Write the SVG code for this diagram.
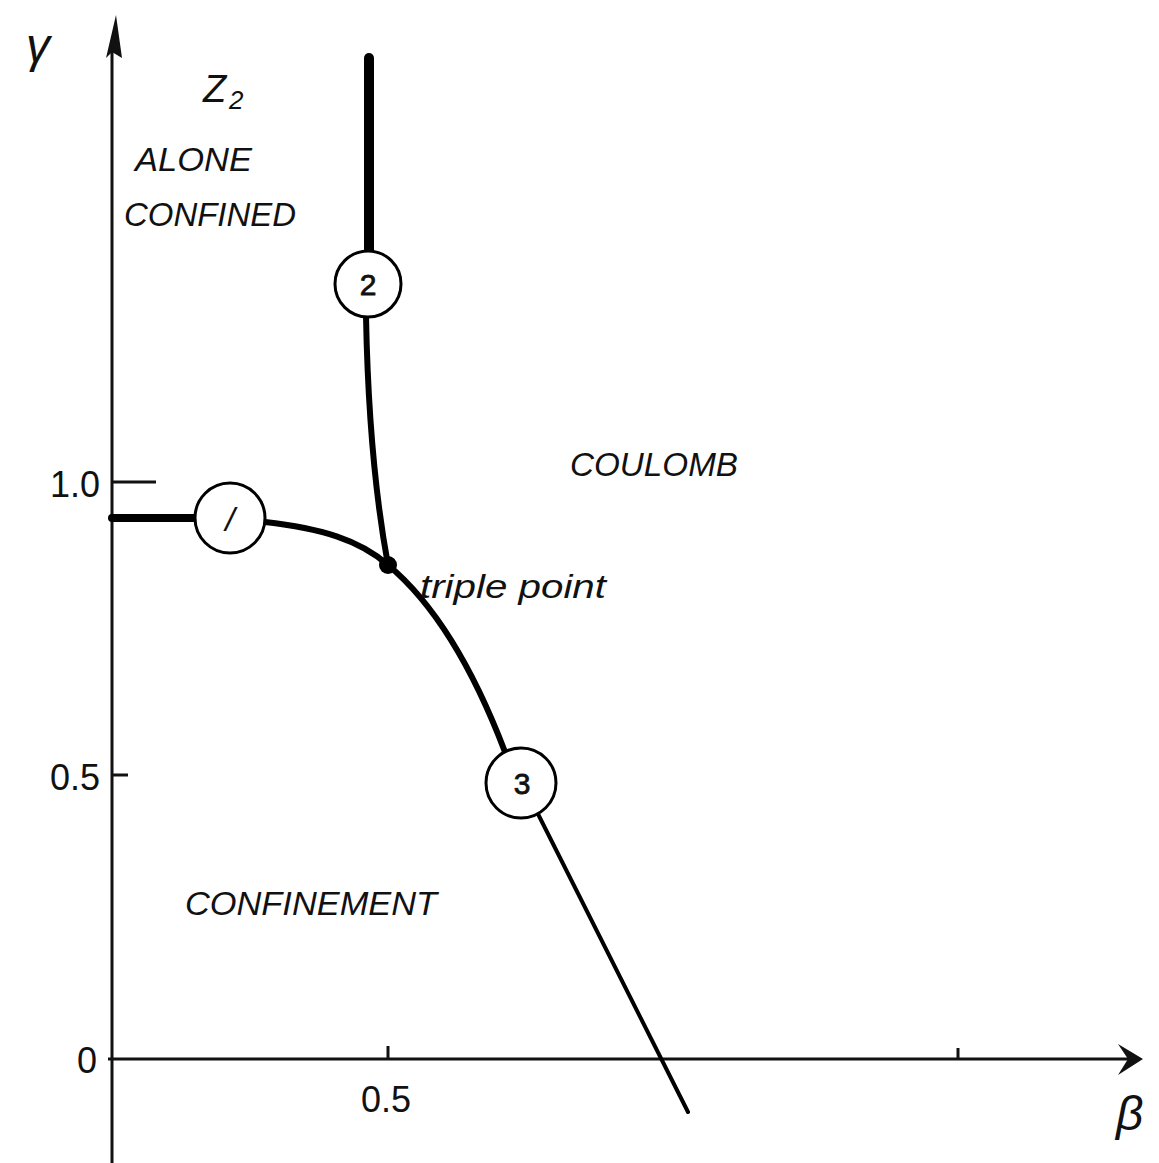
<svg xmlns="http://www.w3.org/2000/svg" width="1159" height="1163" viewBox="0 0 1159 1163">
<style>
.t{font-family:"Liberation Sans",Arial,sans-serif;font-style:italic;fill:#111}
.n{font-family:"Liberation Sans",Arial,sans-serif;fill:#111}
.ax{stroke:#111;stroke-width:3;fill:none}
.ph{stroke:#000;fill:none;stroke-linecap:round}
.c{fill:#fff;stroke:#000;stroke-width:3}
</style>
<rect width="1159" height="1163" fill="#fff"/>
<g id="axes">
<line class="ax" x1="112" y1="45" x2="112" y2="1163"/>
<path d="M116,15 L106,58 L112,52 L122,58 Z" fill="#111"/>
<line class="ax" x1="108" y1="1059" x2="1130" y2="1059"/>
<path d="M1143,1059 L1118,1044 L1128,1059 L1118,1075 Z" fill="#111"/>
<line class="ax" x1="112" y1="482" x2="156" y2="482"/>
<line class="ax" x1="112" y1="775" x2="128" y2="775"/>
<line class="ax" x1="388" y1="1059" x2="388" y2="1046"/>
<line class="ax" x1="958" y1="1059" x2="958" y2="1048"/>
<text class="n" x="100" y="497" font-size="36" text-anchor="end">1.0</text>
<text class="n" x="100" y="790" font-size="36" text-anchor="end">0.5</text>
<text class="n" x="97" y="1073" font-size="36" text-anchor="end">0</text>
<text class="n" x="386" y="1112" font-size="36" text-anchor="middle">0.5</text>
<text class="t" x="26" y="62" font-size="48">γ</text>
<text class="t" x="1116" y="1130" font-size="48">β</text>
</g>
<g id="connectors">
<path class="ph" d="M112,518 L196,518" stroke-width="8"/>
<path class="ph" d="M265,522 C320,528 360,540 388,565 C430,600 470,660 505,752" stroke-width="6"/>
<path class="ph" d="M537,812 L688,1112" stroke-width="4"/>
<path class="ph" d="M369,58 L369,252" stroke-width="10" stroke-linecap="butt"/>
<path class="ph" d="M366,316 C368,420 376,500 388,565" stroke-width="6"/>
</g>
<g id="triple-point">
<circle cx="388" cy="565" r="9" fill="#000"/>
<text class="t" x="420" y="598" font-size="34" textLength="186" lengthAdjust="spacingAndGlyphs">triple point</text>
</g>
<g id="node-1">
<circle class="c" cx="230" cy="518" r="35"/>
<text class="t" x="230" y="531" font-size="34" text-anchor="middle">/</text>
</g>
<g id="node-2">
<circle class="c" cx="368" cy="284" r="33"/>
<text class="n" x="368" y="295" font-size="30" text-anchor="middle" stroke="#111" stroke-width="0.8">2</text>
</g>
<g id="node-3">
<circle class="c" cx="521" cy="783" r="35"/>
<text class="n" x="522" y="794" font-size="30" text-anchor="middle" stroke="#111" stroke-width="0.8">3</text>
</g>
<g id="labels">
<text class="t" x="203" y="102" font-size="38">Z</text>
<text class="t" x="229" y="109" font-size="26">2</text>
<text class="t" x="135" y="171" font-size="34" textLength="117" lengthAdjust="spacingAndGlyphs">ALONE</text>
<text class="t" x="124" y="226" font-size="34" textLength="172" lengthAdjust="spacingAndGlyphs">CONFINED</text>
<text class="t" x="570" y="476" font-size="34" textLength="168" lengthAdjust="spacingAndGlyphs">COULOMB</text>
<text class="t" x="185" y="915" font-size="34" textLength="252" lengthAdjust="spacingAndGlyphs">CONFINEMENT</text>
</g>
</svg>
